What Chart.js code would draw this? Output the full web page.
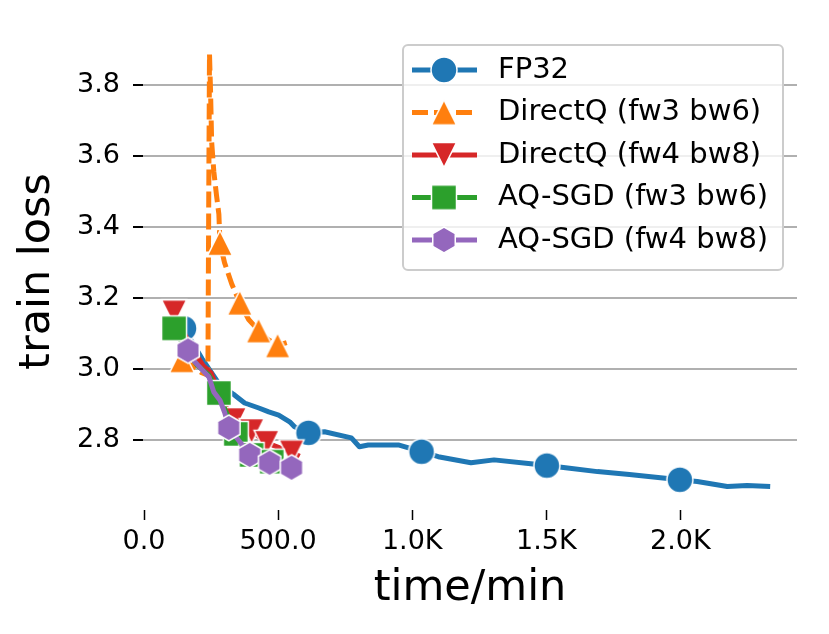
<!DOCTYPE html>
<html>
<head>
<meta charset="utf-8">
<script src="https://cdn.jsdelivr.net/npm/chart.js@4.4.1/dist/chart.umd.min.js"></script>
<style>
  html, body { margin: 0; padding: 0; background: #fff; }
  #wrap { width: 829px; height: 634px; }
</style>
</head>
<body>
<div id="wrap"><canvas id="lossChart" width="829" height="634"></canvas></div>
<script>
// values (time in minutes, train loss)
const xTicks = [0, 500, 1000, 1500, 2000];
const xTickLabels = ["0.0", "500.0", "1.0K", "1.5K", "2.0K"];
const yTicks = [2.8, 3.0, 3.2, 3.4, 3.6, 3.8];
const yTickLabels = ["2.8", "3.0", "3.2", "3.4", "3.6", "3.8"];

const seriesNames = ["FP32", "DirectQ (fw3 bw6)", "DirectQ (fw4 bw8)", "AQ-SGD (fw3 bw6)", "AQ-SGD (fw4 bw8)"];

const fp32Time = [149, 216, 283, 338, 375, 428, 465, 502, 543, 561, 613, 673, 773, 803, 836, 948, 1035, 1097, 1219, 1305, 1442, 1502, 1572, 1691, 1810, 1926, 1998, 2063, 2175, 2249, 2335];
const fp32Loss = [3.115, 3.03, 2.955, 2.927, 2.905, 2.891, 2.880, 2.871, 2.852, 2.838, 2.821, 2.824, 2.807, 2.782, 2.787, 2.787, 2.768, 2.754, 2.737, 2.745, 2.734, 2.729, 2.723, 2.712, 2.704, 2.695, 2.689, 2.684, 2.670, 2.673, 2.670];
const fp32Marks = [0, 10, 16, 21, 26];

const dq36Time = [141, 180, 215, 238, 241, 244, 248, 252, 260, 270, 279, 283, 300, 327, 357, 390, 427, 460, 498, 532];
const dq36Loss = [3.025, 3.01, 2.99, 2.983, 3.45, 3.887, 3.78, 3.64, 3.557, 3.49, 3.436, 3.355, 3.30, 3.24, 3.187, 3.14, 3.109, 3.085, 3.067, 3.075];
const dq36Marks = [0, 11, 14, 16, 18];

const dq48Time = [112, 170, 220, 250, 270, 300, 335, 401, 457, 550, 580];
const dq48Loss = [3.16, 3.07, 3.01, 2.99, 2.95, 2.90, 2.857, 2.826, 2.793, 2.766, 2.755];
const dq48Marks = [0, 6, 7, 8, 9];

const aq36Time = [112, 160, 200, 240, 279, 300, 342, 401, 476, 490];
const aq36Loss = [3.115, 3.05, 3.01, 2.985, 2.933, 2.89, 2.818, 2.759, 2.74, 2.735];
const aq36Marks = [0, 4, 6, 7, 8];

const aq48Time = [164, 190, 242, 260, 283, 301, 316, 357, 394, 468, 550];
const aq48Loss = [3.053, 3.02, 2.978, 2.936, 2.913, 2.877, 2.835, 2.796, 2.759, 2.737, 2.723];
const aq48Marks = [0, 6, 8, 9, 10];

const FONT = '"DejaVu Sans", sans-serif';

// matplotlib-like markers with a thin white edge
function makeMarker(shape, color) {
  const s = 32, m = s / 2;
  const c = document.createElement("canvas");
  c.width = s; c.height = s;
  const g = c.getContext("2d");
  g.beginPath();
  if (shape === "circle") {
    g.arc(m, m, 13, 0, Math.PI * 2);
  } else if (shape === "square") {
    g.rect(m - 12.5, m - 12.5, 25, 25);
  } else if (shape === "up") {
    g.moveTo(m, m - 12.5); g.lineTo(m + 12.5, m + 12.5); g.lineTo(m - 12.5, m + 12.5); g.closePath();
  } else if (shape === "down") {
    g.moveTo(m, m + 12.5); g.lineTo(m + 12.5, m - 12.5); g.lineTo(m - 12.5, m - 12.5); g.closePath();
  } else if (shape === "hex") {
    for (let k = 0; k < 6; k++) {
      const a = (-90 + 60 * k) * Math.PI / 180;
      const px = m + 13 * Math.cos(a), py = m + 13 * Math.sin(a);
      k ? g.lineTo(px, py) : g.moveTo(px, py);
    }
    g.closePath();
  }
  g.fillStyle = color;
  g.fill();
  g.lineWidth = 1.5;
  g.strokeStyle = "#ffffff";
  g.stroke();
  return c;
}

function makeSeries(label, times, losses, marks, color, shape, dash, order) {
  const img = makeMarker(shape, color);
  return {
    label,
    data: times.map((t, i) => ({ x: t, y: losses[i] })),
    borderColor: color,
    backgroundColor: color,
    borderWidth: 5,
    borderDash: dash,
    borderJoinStyle: "round",
    tension: 0,
    pointStyle: img,
    pointRadius: (ctx) => (marks.includes(ctx.dataIndex) ? 13 : 0),
    pointHoverRadius: 0,
    order,
    markerImg: img
  };
}

const datasets = [
  makeSeries(seriesNames[0], fp32Time, fp32Loss, fp32Marks, "#1f77b4", "circle", [], 5),
  makeSeries(seriesNames[1], dq36Time, dq36Loss, dq36Marks, "#ff7f0e", "up", [16, 6], 4),
  makeSeries(seriesNames[2], dq48Time, dq48Loss, dq48Marks, "#d62728", "down", [], 3),
  makeSeries(seriesNames[3], aq36Time, aq36Loss, aq36Marks, "#2ca02c", "square", [], 2),
  makeSeries(seriesNames[4], aq48Time, aq48Loss, aq48Marks, "#9467bd", "hex", [], 1)
];

// legend drawn inside the plot, upper right, like matplotlib's
const boxLegend = {
  id: "boxLegend",
  afterDraw(chart) {
    const ctx = chart.ctx;
    const x0 = 403, y0 = 45, w = 380, h = 225;
    ctx.save();
    ctx.beginPath();
    ctx.roundRect(x0, y0, w, h, 5);
    ctx.fillStyle = "rgba(255,255,255,0.8)";
    ctx.fill();
    ctx.lineWidth = 2;
    ctx.strokeStyle = "#cccccc";
    ctx.stroke();
    chart.data.datasets.forEach((ds, i) => {
      const yy = 70 + i * 42.5;
      ctx.beginPath();
      ctx.setLineDash(ds.borderDash || []);
      ctx.lineWidth = 5;
      ctx.strokeStyle = ds.borderColor;
      ctx.moveTo(412, yy);
      ctx.lineTo(477, yy);
      ctx.stroke();
      ctx.setLineDash([]);
      const img = ds.markerImg;
      ctx.drawImage(img, 444 - img.width / 2, yy - img.height / 2);
      ctx.fillStyle = "#000";
      ctx.font = "29px " + FONT;
      ctx.textAlign = "left";
      ctx.textBaseline = "middle";
      ctx.fillText(ds.label, 498, yy);
    });
    ctx.restore();
  }
};

new Chart(document.getElementById("lossChart"), {
  type: "line",
  data: { datasets },
  options: {
    responsive: false,
    devicePixelRatio: 1,
    animation: false,
    events: [],
    layout: { padding: { top: 33, right: 32, left: 0, bottom: 0 } },
    plugins: { legend: { display: false }, tooltip: { enabled: false } },
    scales: {
      x: {
        type: "linear",
        min: -4,
        max: 2435,
        afterBuildTicks: (s) => { s.ticks = xTicks.map((v) => ({ value: v })); },
        afterFit: (s) => { s.height = 124; },
        ticks: {
          callback: (v, i) => xTickLabels[i],
          font: { family: FONT, size: 27 },
          color: "#000",
          padding: 6,
          maxRotation: 0
        },
        grid: { drawOnChartArea: false, tickLength: 10, tickColor: "#000", tickWidth: 1.5 },
        border: { display: false },
        title: {
          display: true,
          text: "time/min",
          font: { family: FONT, size: 43 },
          color: "#000",
          padding: { top: 0, bottom: 19 }
        }
      },
      y: {
        min: 2.604,
        max: 3.946,
        afterBuildTicks: (s) => { s.ticks = yTicks.map((v) => ({ value: v })); },
        afterFit: (s) => { s.width = 143; },
        ticks: {
          callback: (v, i) => yTickLabels[i],
          font: { family: FONT, size: 27 },
          color: "#000",
          padding: 13
        },
        grid: { color: "#b0b0b0", lineWidth: 2, tickLength: 10, tickColor: "#000", tickWidth: 2 },
        border: { display: false },
        title: {
          display: true,
          text: "train loss",
          font: { family: FONT, size: 43 },
          color: "#000",
          padding: { top: 12, bottom: 0 }
        }
      }
    }
  },
  plugins: [boxLegend]
});
</script>
</body>
</html>
